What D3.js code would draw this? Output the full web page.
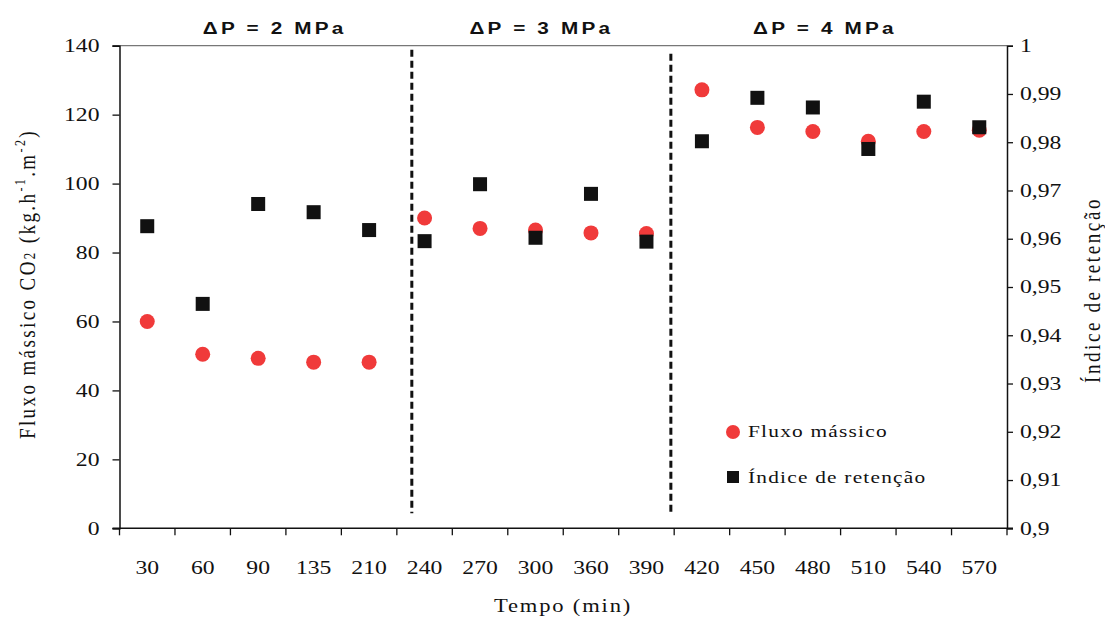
<!DOCTYPE html>
<html>
<head>
<meta charset="utf-8">
<script src="https://cdn.jsdelivr.net/npm/d3@7"></script>
<style>
  body { margin: 0; background: #fff; }
  text { fill: #111; }
</style>
</head>
<body>
<svg id="chart" width="1105" height="618"></svg>
<script>
// Sampling times (min), one category per measurement
const categories = ["30", "60", "90", "135", "210", "240", "270", "300", "360", "390",
                    "420", "450", "480", "510", "540", "570"];
// Mass flux of CO2 (kg.h-1.m-2), left axis
const fluxo = [60, 50.5, 49.3, 48.2, 48.2, 90, 87, 86.5, 85.7, 85.5,
               127.2, 116.3, 115.1, 112.3, 115.1, 115.5];
// Retention index, right axis
const retencao = [0.9626, 0.9465, 0.9672, 0.9655, 0.9618, 0.9595, 0.9713, 0.9602, 0.9693, 0.9594,
                  0.9802, 0.9892, 0.9872, 0.9786, 0.9884, 0.9831];
const leftTicks = [0, 20, 40, 60, 80, 100, 120, 140];
const rightTicks = [0.9, 0.91, 0.92, 0.93, 0.94, 0.95, 0.96, 0.97, 0.98, 0.99, 1];
// Pressure stages: label and break position (in category units) between stages
const stageLabels = ["ΔP = 2 MPa", "ΔP = 3 MPa", "ΔP = 4 MPa"];
const stageBreaks = [5.27, 9.94];

const M = { left: 119.5, right: 1007, top: 45.7, bottom: 528.3 };
const SX = 1.28;               // horizontal widening used for printed labels
const serif = "'Liberation Serif', 'Times New Roman', serif";
const sans = "'Liberation Sans', Arial, sans-serif";

const svg = d3.select("#chart");

const x = d3.scaleBand().domain(categories).range([M.left, M.right]).padding(0);
const xi = d3.scaleLinear().domain([0, categories.length]).range([M.left, M.right]);
const yL = d3.scaleLinear().domain([0, 140]).range([M.bottom, M.top]);
const yR = d3.scaleLinear().domain([0.9, 1]).range([M.bottom, M.top]);

const ptBR = d3.formatLocale({ decimal: ",", thousands: ".", grouping: [3], currency: ["R$", ""] });
const fmtR = ptBR.format(".2~f");

// widen a text element horizontally around its anchor point
function widen(sel, sx) {
  sel.each(function () {
    const t = d3.select(this);
    const tx = +t.attr("x") || 0, ty = +t.attr("y") || 0;
    t.attr("x", 0).attr("y", 0).attr("transform", `translate(${tx},${ty}) scale(${sx},1)`);
  });
}

// top frame line
svg.append("line")
  .attr("x1", M.left - 7).attr("x2", M.right)
  .attr("y1", M.top).attr("y2", M.top)
  .attr("stroke", "#777").attr("stroke-width", 1.2);

// left axis
const gL = svg.append("g").attr("transform", `translate(${M.left},0)`)
  .call(d3.axisLeft(yL).tickValues(leftTicks).tickSize(7).tickPadding(13).tickFormat(d3.format("d")));
// right axis
const gR = svg.append("g").attr("transform", `translate(${M.right},0)`)
  .call(d3.axisRight(yR).tickValues(rightTicks).tickSize(6).tickPadding(7).tickFormat(fmtR));
// bottom axis: labels at category centres
const gB = svg.append("g").attr("transform", `translate(0,${M.bottom})`)
  .call(d3.axisBottom(x).tickSize(0).tickPadding(33));
gB.select(".domain").remove();
// bottom axis line and tick marks on category boundaries
svg.append("line")
  .attr("x1", M.left - 7).attr("x2", M.right + 6)
  .attr("y1", M.bottom).attr("y2", M.bottom)
  .attr("stroke", "#111").attr("stroke-width", 1.5);
svg.append("g").selectAll("line")
  .data(d3.range(categories.length + 1))
  .join("line")
  .attr("x1", d => xi(d)).attr("x2", d => xi(d))
  .attr("y1", M.bottom).attr("y2", M.bottom + 7)
  .attr("stroke", "#111").attr("stroke-width", 1.3);

[gL, gR, gB].forEach(g => {
  g.selectAll(".domain").attr("stroke", "#111").attr("stroke-width", 1.5);
  g.selectAll(".tick line").attr("stroke", "#111").attr("stroke-width", 1.3);
  g.selectAll(".tick text")
    .attr("font-family", serif).attr("font-size", 18.5).attr("fill", "#111")
    .call(widen, SX);
});

// stage separators
svg.append("g").selectAll("line")
  .data(stageBreaks)
  .join("line")
  .attr("x1", d => xi(d)).attr("x2", d => xi(d))
  .attr("y1", (d, i) => M.top + (i === 0 ? 4 : 8)).attr("y2", M.bottom - 15)
  .attr("stroke", "#111").attr("stroke-width", 3)
  .attr("stroke-dasharray", "7,4");

// stage titles
const stageSpans = [[0, stageBreaks[0]], [stageBreaks[0], stageBreaks[1]], [stageBreaks[1], categories.length]];
const titleNudge = [9, 0, -14];
svg.append("g").selectAll("text")
  .data(stageLabels)
  .join("text")
  .attr("x", (d, i) => xi((stageSpans[i][0] + stageSpans[i][1]) / 2) + titleNudge[i])
  .attr("y", 34)
  .attr("text-anchor", "middle")
  .attr("font-family", sans).attr("font-size", 17).attr("font-weight", "bold")
  .attr("letter-spacing", 2.6)
  .text(d => d)
  .call(widen, 1.22);

// mass flux markers (left axis)
svg.append("g").selectAll("circle")
  .data(fluxo)
  .join("circle")
  .attr("cx", (d, i) => x(categories[i]) + x.bandwidth() / 2)
  .attr("cy", d => yL(d))
  .attr("r", 7.5)
  .attr("fill", "#f03a3a");

// retention index markers (right axis)
const sq = 14;
svg.append("g").selectAll("rect")
  .data(retencao)
  .join("rect")
  .attr("x", (d, i) => x(categories[i]) + x.bandwidth() / 2 - sq / 2)
  .attr("y", d => yR(d) - sq / 2)
  .attr("width", sq).attr("height", sq)
  .attr("fill", "#111");

// legend
const lg = svg.append("g");
lg.append("circle").attr("cx", 733).attr("cy", 432).attr("r", 7).attr("fill", "#f03a3a");
lg.append("rect").attr("x", 727).attr("y", 471).attr("width", 12).attr("height", 12).attr("fill", "#111");
lg.append("text").attr("x", 748).attr("y", 437)
  .attr("font-family", serif).attr("font-size", 17.5).attr("letter-spacing", 1)
  .text("Fluxo mássico").call(widen, 1.22);
lg.append("text").attr("x", 748).attr("y", 483)
  .attr("font-family", serif).attr("font-size", 17.5).attr("letter-spacing", 1)
  .text("Índice de retenção").call(widen, 1.22);

// axis titles
svg.append("text")
  .attr("transform", `translate(563,612) scale(1.22,1)`)
  .attr("text-anchor", "middle")
  .attr("font-family", serif).attr("font-size", 18.5).attr("letter-spacing", 1.5)
  .text("Tempo (min)");

const yTitle = svg.append("text")
  .attr("transform", `translate(35,284) scale(1.25,1) rotate(-90)`)
  .attr("text-anchor", "middle")
  .attr("font-family", serif).attr("font-size", 19).attr("letter-spacing", 2.4);
yTitle.append("tspan").text("Fluxo mássico CO");
yTitle.append("tspan").attr("font-size", 13).text("2");
yTitle.append("tspan").text(" (kg.h");
yTitle.append("tspan").attr("font-size", 12).attr("dy", -8).text("-1");
yTitle.append("tspan").attr("dy", 8).text(".m");
yTitle.append("tspan").attr("font-size", 12).attr("dy", -8).text("-2");
yTitle.append("tspan").attr("dy", 8).text(")");

svg.append("text")
  .attr("transform", `translate(1100,290) scale(1.25,1) rotate(-90)`)
  .attr("text-anchor", "middle")
  .attr("font-family", serif).attr("font-size", 19).attr("letter-spacing", 2.6)
  .text("Índice de retenção");
</script>
</body>
</html>
